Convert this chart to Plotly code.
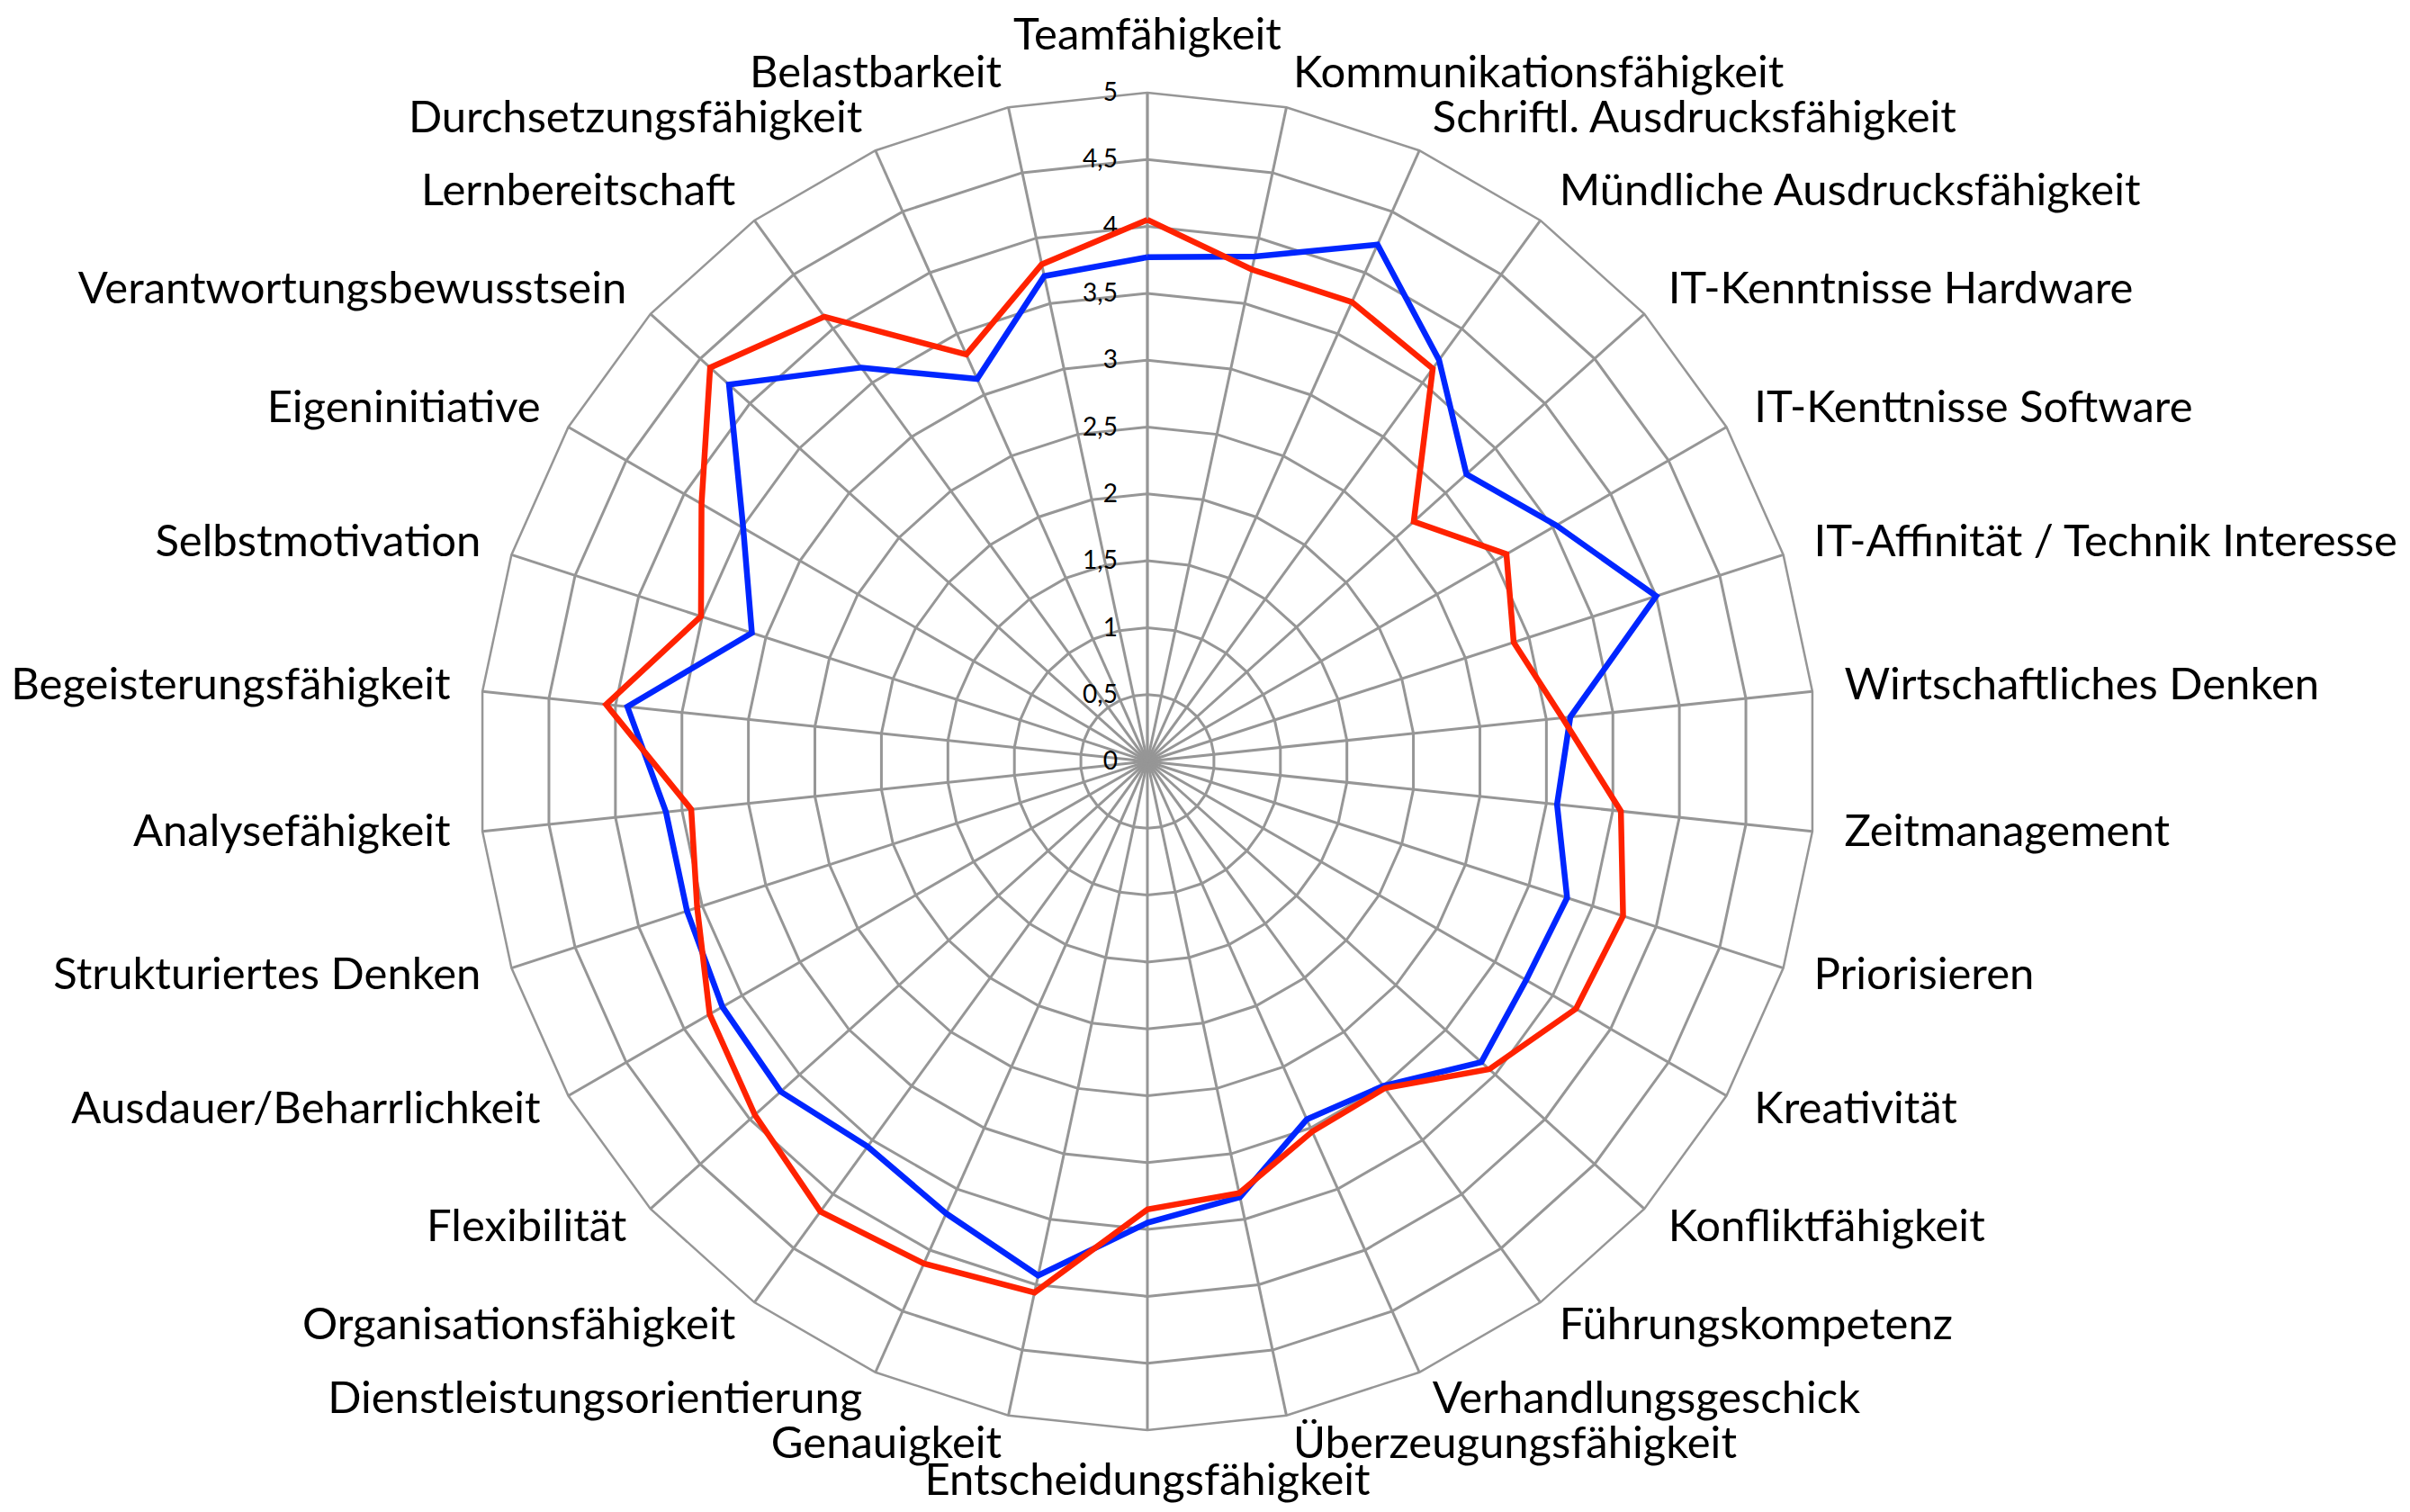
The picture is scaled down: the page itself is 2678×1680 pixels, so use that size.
import plotly.graph_objects as go

categories = [
    "Teamfähigkeit", "Kommunikationsfähigkeit", "Schriftl. Ausdrucksfähigkeit",
    "Mündliche Ausdrucksfähigkeit", "IT-Kenntnisse Hardware", "IT-Kenttnisse Software",
    "IT-Affinität / Technik Interesse", "Wirtschaftliches Denken", "Zeitmanagement",
    "Priorisieren", "Kreativität", "Konfliktfähigkeit", "Führungskompetenz",
    "Verhandlungsgeschick", "Überzeugungsfähigkeit", "Entscheidungsfähigkeit",
    "Genauigkeit", "Dienstleistungsorientierung", "Organisationsfähigkeit",
    "Flexibilität", "Ausdauer/Beharrlichkeit", "Strukturiertes Denken",
    "Analysefähigkeit", "Begeisterungsfähigkeit", "Selbstmotivation",
    "Eigeninitiative", "Verantwortungsbewusstsein", "Lernbereitschaft",
    "Durchsetzungsfähigkeit", "Belastbarkeit",
]

series_red = [4.05, 3.76, 3.76, 3.63, 2.68, 3.10, 2.88, 3.12, 3.56, 3.74,
              3.70, 3.44, 3.02, 3.03, 3.30, 3.35, 4.06, 4.11, 4.16, 3.95,
              3.78, 3.54, 3.43, 4.07, 3.51, 3.85, 4.40, 4.11, 3.33, 3.80]

series_blue = [3.77, 3.86, 4.23, 3.71, 3.21, 3.53, 4.00, 3.18, 3.08, 3.30,
               3.27, 3.36, 3.00, 2.93, 3.33, 3.45, 3.93, 3.70, 3.56, 3.69,
               3.67, 3.62, 3.62, 3.91, 3.11, 3.49, 4.21, 3.64, 3.13, 3.71]

radial_ticks = [0, 0.5, 1, 1.5, 2, 2.5, 3, 3.5, 4, 4.5, 5]

GRID = "#969696"
W, H = 2678, 1680
cx, cy, R = 1267, 838, 743
R_MAX = 5
LABEL_R = 5.24      # radius (in data units) where category labels sit
OUTER = 5.3         # range of the invisible label subplot
R2 = R * OUTER / R_MAX

n = len(categories)
positions = []
for i in range(n):
    deg = 360.0 * i / n
    if deg == 0:
        positions.append("top center")
    elif deg == 180:
        positions.append("bottom center")
    elif deg < 180:
        positions.append("middle right")
    else:
        positions.append("middle left")

fig = go.Figure()
for vals, color in [(series_blue, "#0026ff"), (series_red, "#ff2200")]:
    fig.add_trace(go.Scatterpolar(
        r=vals + vals[:1],
        theta=categories + categories[:1],
        mode="lines",
        line=dict(color=color, width=6.5),
        showlegend=False,
        hoverinfo="skip",
        subplot="polar",
    ))

# category labels on a concentric, invisible polar subplot with a larger range
fig.add_trace(go.Scatterpolar(
    r=[LABEL_R] * n,
    theta=categories,
    mode="text",
    text=categories,
    textposition=positions,
    textfont=dict(size=49, family="Lato, Open Sans, sans-serif", color="black"),
    cliponaxis=False,
    showlegend=False,
    hoverinfo="skip",
    subplot="polar2",
))

axis_common = dict(direction="clockwise", rotation=90)

fig.update_layout(
    width=W, height=H,
    margin=dict(l=0, r=0, t=0, b=0),
    paper_bgcolor="white",
    separators=",.",
    font=dict(family="Lato, Open Sans, sans-serif", color="black"),
    polar=dict(
        domain=dict(x=[(cx - R) / W, (cx + R) / W],
                    y=[(H - cy - R) / H, (H - cy + R) / H]),
        bgcolor="white",
        gridshape="linear",
        angularaxis=dict(
            **axis_common,
            showline=True, linecolor=GRID, linewidth=2.5,
            showgrid=True, gridcolor=GRID, gridwidth=2.5,
            ticks="",
            showticklabels=False,
            layer="below traces",
        ),
        radialaxis=dict(
            range=[0, R_MAX],
            tickvals=radial_ticks,
            angle=90,
            side="counterclockwise",
            tickangle=90,
            showline=True, linecolor=GRID, linewidth=2.5,
            showgrid=True, gridcolor=GRID, gridwidth=2.5,
            ticks="outside", ticklen=22, tickcolor="rgba(0,0,0,0)",
            tickfont=dict(size=28, family="Lato, sans-serif", color="black"),
            layer="below traces",
        ),
    ),
    polar2=dict(
        domain=dict(x=[(cx - R2) / W, (cx + R2) / W],
                    y=[(H - cy - R2) / H, (H - cy + R2) / H]),
        bgcolor="rgba(0,0,0,0)",
        angularaxis=dict(**axis_common, visible=False,
                         categoryarray=categories, categoryorder="array"),
        radialaxis=dict(range=[0, OUTER], visible=False),
    ),
)

fig.write_html("out.html")
